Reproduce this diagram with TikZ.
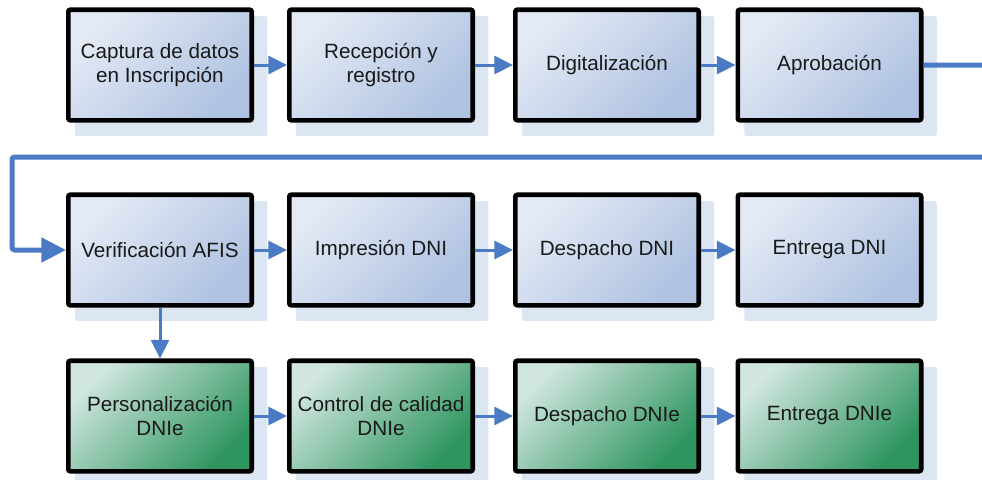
\documentclass[tikz,border=0pt]{standalone}
\usepackage{fontspec}
\setmainfont{Liberation Sans}
\usetikzlibrary{arrows.meta,backgrounds}
\definecolor{flow}{HTML}{4A7BC4}
\definecolor{shadowc}{HTML}{DCE5F2}
\definecolor{bluelight}{HTML}{E4EAF5}
\definecolor{bluedark}{HTML}{AFC2E1}
\definecolor{greenlight}{HTML}{D0E6DF}
\definecolor{greenmid}{HTML}{3F9D6C}
\definecolor{greendark}{HTML}{2E955F}
\tikzset{
  stage/.style={draw=black, line width=3.4pt, rounded corners=1.5pt,
    minimum width=137.6pt, minimum height=82.9pt, inner sep=0pt,
    align=center, text=black!90,
    font=\fontsize{15.5}{18}\selectfont},
  bluestage/.style={stage, top color=bluelight, bottom color=bluedark,
    shading angle=45},
  greenstage/.style={stage, top color=greenlight, middle color=greenmid,
    bottom color=greendark, shading angle=45},
  flowarrow/.style={draw=flow, line width=2.25pt,
    -{Triangle[length=14pt,width=13.5pt]}},
  looparrow/.style={draw=flow, line width=3.75pt, rounded corners=2pt,
    -{Triangle[length=18.5pt,width=18pt]}},
}
\begin{document}
\begin{tikzpicture}[x=0.75pt,y=-0.75pt]
\useasboundingbox (0,0) rectangle (982,479);

% first row
\node[bluestage] (a1) at (160,65)   {Captura de datos\\en Inscripción};
\node[bluestage] (a2) at (381,65)   {Recepción y\\registro};
\node[bluestage] (a3) at (607,65)   {Digitalización};
\node[bluestage] (a4) at (829.5,65) {Aprobación};

% second row
\node[bluestage] (b1) at (160,250)   {Verificación AFIS};
\node[bluestage] (b2) at (381,250)   {Impresión DNI};
\node[bluestage] (b3) at (607,250)   {Despacho DNI};
\node[bluestage] (b4) at (829.5,250) {Entrega DNI};

% third row
\node[greenstage] (c1) at (160,416)   {Personalización\\DNIe};
\node[greenstage] (c2) at (381,416)   {Control de calidad\\DNIe};
\node[greenstage] (c3) at (607,416)   {Despacho DNIe};
\node[greenstage] (c4) at (829.5,416) {Entrega DNIe};

% offset shadows behind every box
\begin{scope}[on background layer]
  \foreach \n in {a1,a2,a3,a4,b1,b2,b3,b4,c1,c2,c3,c4}
    \fill[shadowc, rounded corners=1.5pt]
      ([shift={(8.75,8.75)}]\n.north west) rectangle ([shift={(13.25,13.25)}]\n.south east);
\end{scope}

% connectors within each row
\draw[flowarrow] (a1) -- (a2);
\draw[flowarrow] (a2) -- (a3);
\draw[flowarrow] (a3) -- (a4);
\draw[flowarrow] (b1) -- (b2);
\draw[flowarrow] (b2) -- (b3);
\draw[flowarrow] (b3) -- (b4);
\draw[flowarrow] (c1) -- (c2);
\draw[flowarrow] (c2) -- (c3);
\draw[flowarrow] (c3) -- (c4);
\draw[flowarrow] (b1) -- (c1);

% return line from the first row to the second
\coordinate (r2) at (995,157);
\coordinate (l1) at (12,157);
\draw[looparrow] (a4.east) -| (r2) -- (l1) |- (b1.west);
\end{tikzpicture}
\end{document}
